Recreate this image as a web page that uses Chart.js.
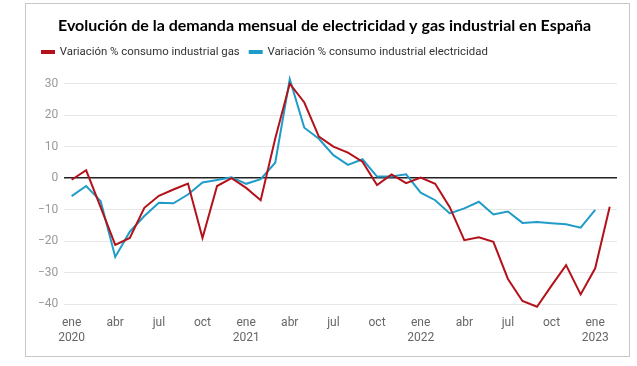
<!DOCTYPE html>
<html>
<head>
<meta charset="utf-8">
<script src="https://cdn.jsdelivr.net/npm/chart.js@4"></script>
<style>
  html, body { margin: 0; padding: 0; background: #fff; }
  #wrap { position: relative; width: 637px; height: 366px; }
  #frame { position: absolute; left: 25px; top: 3px; width: 605px; height: 354px; border: 1px solid #c8c8c8; box-sizing: border-box; pointer-events: none; }
  canvas { position: absolute; left: 0; top: 0; }
</style>
</head>
<body>
<div id="wrap">
  <canvas id="c" width="637" height="366"></canvas>
  <div id="frame"></div>
</div>
<script>
const months = ['ene 2020','feb 2020','mar 2020','abr 2020','may 2020','jun 2020','jul 2020','ago 2020','sep 2020','oct 2020','nov 2020','dic 2020',
  'ene 2021','feb 2021','mar 2021','abr 2021','may 2021','jun 2021','jul 2021','ago 2021','sep 2021','oct 2021','nov 2021','dic 2021',
  'ene 2022','feb 2022','mar 2022','abr 2022','may 2022','jun 2022','jul 2022','ago 2022','sep 2022','oct 2022','nov 2022','dic 2022',
  'ene 2023','feb 2023'];

const tickLabels = [['ene','2020'],'','','abr','','','jul','','','oct','','',
  ['ene','2021'],'','','abr','','','jul','','','oct','','',
  ['ene','2022'],'','','abr','','','jul','','','oct','','',
  ['ene','2023'],''];

const gasValues = [-0.5, 2.5, -9.3, -21.2, -19.0, -9.4, -5.6, -3.6, -1.7, -19.0, -2.5, 0.0,
  -3.1, -7.0, 12.6, 30.0, 24.0, 13.2, 10.0, 8.1, 5.2, -2.2, 1.2, -1.6,
  0.2, -1.8, -9.2, -19.7, -18.8, -20.2, -32.0, -39.0, -40.8, -34.1, -27.6, -36.9,
  -28.6, -9.1];

const elecValues = [-5.7, -2.5, -7.3, -25.0, -17.0, -12.0, -7.8, -8.0, -5.2, -1.4, -0.6, 0.3,
  -1.8, -0.3, 4.9, 31.4, 16.0, 12.5, 7.3, 4.2, 6.0, 0.5, 0.5, 1.2,
  -4.6, -7.0, -11.2, -9.6, -7.5, -11.5, -10.6, -14.2, -13.9, -14.3, -14.6, -15.7,
  -10.1];

const yTicks = [30, 20, 10, 0, -10, -20, -30, -40];

const RED = '#b3121a';
const BLUE = '#1f9cc8';

const legendGap = {
  id: 'legendGap',
  beforeInit(chart) {
    const origFit = chart.legend.fit;
    chart.legend.fit = function () {
      origFit.call(this);
      this.height += 16;
    };
  }
};

new Chart(document.getElementById('c'), {
  type: 'line',
  data: {
    labels: months,
    datasets: [
      { label: 'Variación % consumo industrial gas', data: gasValues, borderColor: RED, backgroundColor: RED, borderWidth: 2, pointRadius: 0, tension: 0, clip: false },
      { label: 'Variación % consumo industrial electricidad', data: elecValues, borderColor: BLUE, backgroundColor: BLUE, borderWidth: 2, pointRadius: 0, tension: 0, clip: false }
    ]
  },
  plugins: [legendGap],
  options: {
    responsive: false,
    animation: false,
    layout: { padding: { left: 32, right: 20, top: 16, bottom: 9 } },
    plugins: {
      title: {
        display: true,
        text: 'Evolución de la demanda mensual de electricidad y gas industrial en España',
        color: '#000',
        font: { family: 'Lato', size: 16, weight: 'bold' },
        padding: { top: 0, bottom: 1 }
      },
      legend: {
        display: true,
        align: 'start',
        labels: {
          boxWidth: 12,
          boxHeight: 2,
          color: '#333',
          padding: 10,
          font: { family: 'Roboto', size: 11.4 }
        }
      },
      tooltip: { enabled: false }
    },
    scales: {
      x: {
        type: 'category',
        offset: true,
        grid: { display: false, drawTicks: false },
        border: { display: false },
        ticks: {
          autoSkip: false,
          maxRotation: 0,
          minRotation: 0,
          color: '#666',
          padding: 12,
          font: { family: 'Roboto', size: 12 },
          callback: (v, i) => tickLabels[i]
        }
      },
      y: {
        min: -40,
        max: 30,
        afterBuildTicks: (axis) => { axis.ticks = yTicks.map(v => ({ value: v })); },
        grid: {
          color: (ctx) => ctx.tick && ctx.tick.value === 0 ? '#222' : '#e6e6e6',
          lineWidth: (ctx) => ctx.tick && ctx.tick.value === 0 ? 1.5 : 1,
          drawTicks: false
        },
        border: { display: false },
        ticks: {
          color: '#999',
          padding: 6,
          font: { family: 'Roboto', size: 12 },
          callback: (v) => v < 0 ? '\u2212' + Math.abs(v) : String(v)
        }
      }
    }
  }
});
</script>
</body>
</html>
